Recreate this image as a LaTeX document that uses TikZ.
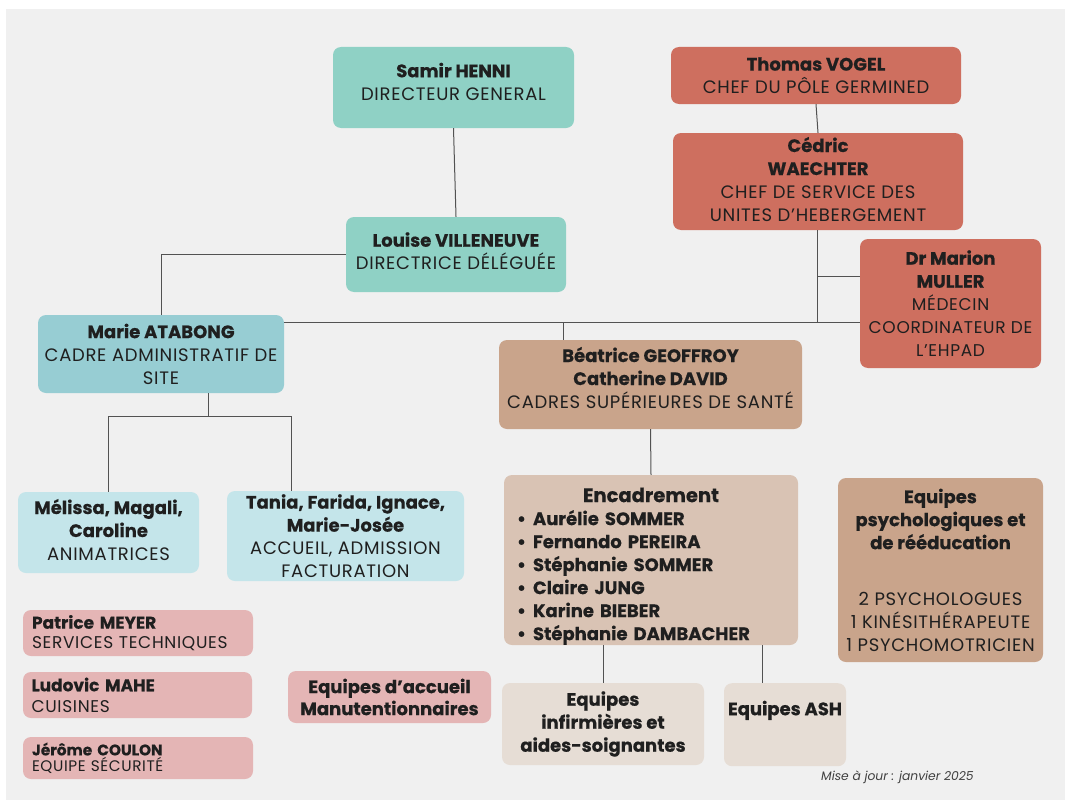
\documentclass[tikz,border=0pt]{standalone}
\usepackage{fontspec}
\setmainfont{Poppins}[UprightFeatures={LetterSpace=4},BoldFeatures={FakeBold=0.5}]
\definecolor{dirgreen}{RGB}{143,209,197}
\definecolor{admblue}{RGB}{151,205,211}
\definecolor{lightblue}{RGB}{196,229,234}
\definecolor{polered}{RGB}{206,111,95}
\definecolor{santetan}{RGB}{201,164,139}
\definecolor{encadrtan}{RGB}{217,195,180}
\definecolor{equipbeige}{RGB}{230,221,213}
\definecolor{servpink}{RGB}{228,181,181}
\definecolor{pagegray}{RGB}{240,240,240}

\begin{document}
\begin{tikzpicture}[x=1pt,y=-1pt,
        box/.style={rounded corners=8pt,inner sep=0pt,align=center,text=black!88,
            font=\fontsize{18}{23}\selectfont},
        servbox/.style={box,fill=servpink,align=left,text width=212,
            font=\fontsize{17}{20}\selectfont},
        link/.style={draw=black!68,line width=1pt}]
    \useasboundingbox[fill=white] (0,0) rectangle (1065,800);
    \fill[pagegray] (6,9) rectangle (1065,800);

    \node[box,fill=dirgreen,minimum width=241,minimum height=81] (samir) at (453.5,87.5) {\textbf{Samir HENNI}\\DIRECTEUR GENERAL\rule[-12pt]{0pt}{0pt}};
    \node[box,fill=dirgreen,minimum width=220,minimum height=75] (louise) at (456,254.5) {\textbf{Louise VILLENEUVE}\\DIRECTRICE DÉLÉGUÉE\rule[-7pt]{0pt}{0pt}};
    \node[box,fill=polered,minimum width=290,minimum height=57] (thomas) at (816,75.5) {\textbf{Thomas VOGEL}\\CHEF DU PÔLE GERMINED};
    \node[box,fill=polered,minimum width=290,minimum height=97] (cedric) at (818,181.5) {\textbf{Cédric}\\\textbf{WAECHTER}\\CHEF DE SERVICE DES\\UNITES D’HEBERGEMENT\rule[-5pt]{0pt}{0pt}};
    \node[box,fill=polered,minimum width=181,minimum height=129] (marion) at (950.5,303.5) {\textbf{Dr Marion}\\\textbf{MULLER}\\{\fontsize{17}{20}\selectfont MÉDECIN}\\{\fontsize{17}{20}\selectfont COORDINATEUR DE}\\{\fontsize{17}{20}\selectfont L’EHPAD}};
    \node[box,fill=admblue,minimum width=246,minimum height=78] (marie) at (161,354) {\textbf{Marie ATABONG}\\CADRE ADMINISTRATIF DE\\SITE};
    \node[box,fill=santetan,minimum width=303,minimum height=89] (beatrice) at (650.5,384.5) {\textbf{Béatrice GEOFFROY}\\\textbf{Catherine DAVID}\\CADRES SUPÉRIEURES DE SANTÉ\rule[-14pt]{0pt}{0pt}};
    \node[box,fill=lightblue,minimum width=181,minimum height=81] (melissa) at (108.5,532.5) {\textbf{Mélissa, Magali,}\\\textbf{Caroline}\\ANIMATRICES\rule[-6pt]{0pt}{0pt}};
    \node[box,fill=lightblue,minimum width=237,minimum height=90] (tania) at (345.5,536) {\textbf{Tania, Farida, Ignace,}\\\textbf{Marie-Josée}\\ACCUEIL, ADMISSION\\FACTURATION};
    \node[box,fill=encadrtan,minimum width=294,minimum height=170,align=left,text width=268] (encadr) at (651,560) {\makebox[268pt]{\rule{0pt}{27pt}\fontsize{19.5}{23}\selectfont\bfseries Encadrement}\\
        \bfseries\makebox[16pt][l]{\textbullet}Aurélie SOMMER\\
        \makebox[16pt][l]{\textbullet}Fernando PEREIRA\\
        \makebox[16pt][l]{\textbullet}Stéphanie SOMMER\\
        \makebox[16pt][l]{\textbullet}Claire JUNG\\
        \makebox[16pt][l]{\textbullet}Karine BIEBER\\
        \makebox[16pt][l]{\textbullet}Stéphanie DAMBACHER};
    \node[box,fill=santetan,minimum width=205,minimum height=184] (psycho) at (940.5,570) {\textbf{Equipes}\\\textbf{psychologiques et}\\\textbf{de rééducation}\\[33pt]2 PSYCHOLOGUES\\1 KINÉSITHÉRAPEUTE\\1 PSYCHOMOTRICIEN};

    \node[servbox,minimum width=230,minimum height=46] (patrice) at (138,633) {\textbf{Patrice MEYER}\\SERVICES TECHNIQUES};
    \node[servbox,minimum width=229,minimum height=46,font=\fontsize{17}{21}\selectfont] (ludovic) at (137.5,695) {\textbf{Ludovic MAHE}\\CUISINES};
    \node[servbox,minimum width=230,minimum height=42,font=\fontsize{15.3}{16}\selectfont] (jerome) at (138,758) {\textbf{Jérôme COULON}\\EQUIPE SÉCURITÉ};
    \node[box,fill=servpink,minimum width=203,minimum height=52,font=\fontsize{18}{22}\selectfont] (accueil) at (389.5,697) {\textbf{Equipes d’accueil}\\\textbf{Manutentionnaires}};
    \node[box,fill=equipbeige,minimum width=202,minimum height=82] (infirm) at (603,724) {\textbf{Equipes}\\\textbf{infirmières et}\\\textbf{aides-soignantes}};
    \node[box,fill=equipbeige,minimum width=122,text height=32,text depth=51,anchor=north] (ash) at (785,683) {\textbf{Equipes ASH}};

    \node[anchor=west,inner sep=0pt,font=\fontsize{12.3}{14}\itshape\selectfont,text=black!75] (maj) at (821,777) {Mise à jour : janvier 2025};

    \coordinate (bus) at (563,322);
    \coordinate (medbr) at (817,276);
    \coordinate (fork) at (208,416);
    \coordinate (forkR) at (291,416);
    \coordinate (ashtop) at (762,683);

    \foreach \up/\down in {samir/louise, thomas/cedric, beatrice/encadr}
        \draw[link] (\up.south) -- (\down.north);
    \draw[link] (louise.west) -| (marie.north);
    \draw[link] (marie.east |- bus) -- (marion.west |- bus);
    \draw[link] (bus) -- (bus |- beatrice.north);
    \draw[link] (cedric.south -| medbr) -- (medbr |- bus);
    \draw[link] (medbr) -- (medbr -| marion.west);
    \draw[link] (marie.south -| fork) -- (fork);
    \draw[link] (melissa.north) |- (forkR) -- (forkR |- tania.north);
    \draw[link] (encadr.south -| infirm.north) -- (infirm.north);
    \draw[link] (encadr.south -| ashtop) -- (ashtop);
\end{tikzpicture}
\end{document}
